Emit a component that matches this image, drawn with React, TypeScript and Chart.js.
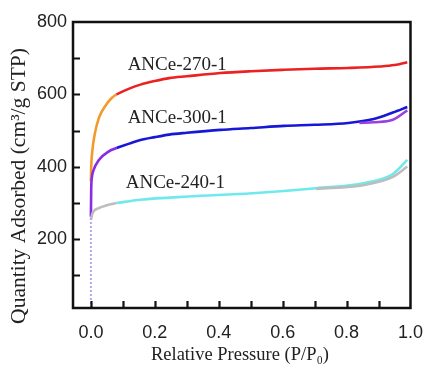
import React, { useEffect, useRef } from "react";
import { Chart, registerables } from "chart.js";
Chart.register(...registerables);

// ---- data ----
const xTicks = [0, 0.1, 0.2, 0.3, 0.4, 0.5, 0.6, 0.7, 0.8, 0.9, 1.0];
const yTicks = [100, 200, 300, 400, 500, 600, 700, 800];

const vertX = [0, 0];
const vertY = [10, 262];

const s270LowX = [0, 0.001, 0.004, 0.012, 0.025, 0.045, 0.065, 0.08];
const s270LowY = [360, 400, 440, 490, 535, 568, 590, 600];
const s270X = [0.08, 0.12, 0.155, 0.2, 0.245, 0.3, 0.405, 0.5, 0.605, 0.7, 0.805, 0.905, 0.95, 0.99];
const s270Y = [600, 616, 627, 637, 645, 650, 659, 664, 668, 671, 673, 677, 681, 689];

const s300LowX = [0, 0.001, 0.003, 0.008, 0.025, 0.055, 0.08];
const s300LowY = [262, 340, 370, 390, 419, 442, 452];
const s300X = [0.08, 0.12, 0.155, 0.2, 0.245, 0.3, 0.405, 0.5, 0.605, 0.7, 0.805, 0.885, 0.945, 0.99];
const s300Y = [452, 464, 474, 482, 489, 494, 502, 507, 513, 516, 521, 532, 550, 565];
const s300DesX = [0.84, 0.885, 0.945, 0.99];
const s300DesY = [521, 523, 530, 556];

const s240LowX = [0, 0.005, 0.025, 0.05, 0.08];
const s240LowY = [253, 272, 286, 294, 300];
const s240X = [0.08, 0.155, 0.305, 0.505, 0.705, 0.856, 0.945, 0.99];
const s240Y = [300, 309, 318, 327, 341, 355, 380, 419];
const s240DesX = [0.705, 0.856, 0.945, 0.99];
const s240DesY = [339, 350, 372, 401];

const labelNames = ["ANCe-270-1", "ANCe-300-1", "ANCe-240-1"];
const labelX = [0.115, 0.115, 0.109];
const labelY = [682, 536, 356];

const pts = (xs: number[], ys: number[]) => xs.map((x, i) => ({ x, y: ys[i] }));

export default function App() {
  const ref = useRef<HTMLCanvasElement | null>(null);
  useEffect(() => {
    if (!ref.current) return;
    const line = (data: any, color: string, extra: any = {}) => ({
      data,
      borderColor: color,
      backgroundColor: color,
      borderWidth: 2.6,
      pointRadius: 0,
      cubicInterpolationMode: "monotone",
      ...extra,
    });
    const deco = {
      id: "deco",
      afterDraw(chart: any) {
        const { ctx, chartArea: a, scales } = chart;
        const xs = scales.x, ys = scales.y;
        ctx.save();
        ctx.strokeStyle = "#111";
        ctx.lineWidth = 2.5;
        ctx.strokeRect(a.left, a.top, a.right - a.left, a.bottom - a.top);
        ctx.lineWidth = 2.2;
        ctx.beginPath();
        yTicks.slice(0, -1).forEach((v) => {
          const p = Math.round(ys.getPixelForValue(v)) + 0.5;
          ctx.moveTo(a.left, p);
          ctx.lineTo(a.left + 7, p);
        });
        xTicks.slice(0, -1).forEach((v) => {
          const p = Math.round(xs.getPixelForValue(v)) + 0.5;
          ctx.moveTo(p, a.bottom);
          ctx.lineTo(p, a.bottom - 7);
        });
        ctx.stroke();
        // series labels
        ctx.fillStyle = "#222";
        ctx.font = '19px "Liberation Serif"';
        ctx.textBaseline = "middle";
        ctx.textAlign = "left";
        labelNames.forEach((n, i) => {
          ctx.fillText(n, xs.getPixelForValue(labelX[i]), ys.getPixelForValue(labelY[i]));
        });
        // axis titles
        ctx.font = '18.5px "Liberation Serif"';
        ctx.textAlign = "center";
        ctx.fillText("Relative Pressure (P/P\u2080)", 240, 355);
        ctx.translate(19, 186);
        ctx.rotate(-Math.PI / 2);
        ctx.font = '21.5px "Liberation Serif"';
        ctx.fillText("Quantity Adsorbed (cm\u00b3/g STP)", 0, 0);
        ctx.restore();
      },
    };
    const chart = new Chart(ref.current, {
      type: "line",
      data: {
        datasets: [
          line(pts(vertX, vertY), "#b9a6e8", { borderDash: [2, 2], borderWidth: 2, cubicInterpolationMode: "default" }),
          line(pts(s240DesX, s240DesY), "#bdbdbd"),
          line(pts(s240X, s240Y), "#6fe9ec"),
          line(pts(s240LowX, s240LowY), "#bdbdbd"),
          line(pts(s300DesX, s300DesY), "#9b3fe0"),
          line(pts(s300X, s300Y), "#1717d6"),
          line(pts(s300LowX, s300LowY), "#8a2be6"),
          line(pts(s270X, s270Y), "#ea2222"),
          line(pts(s270LowX, s270LowY), "#f39a2c"),
        ],
      },
      options: {
        responsive: false,
        animation: false,
        parsing: false as any,
        layout: { padding: { left: 0, right: 14, top: 22, bottom: 0 } },
        plugins: { legend: { display: false }, tooltip: { enabled: false } },
        scales: {
          x: {
            type: "linear",
            min: -0.056,
            max: 1.0,
            afterBuildTicks: (s: any) => { s.ticks = xTicks.map((v) => ({ value: v })); },
            afterFit: (s: any) => { s.height = 62; },
            grid: { display: false, drawTicks: false },
            border: { display: false },
            ticks: {
              padding: 14,
              color: "#222",
              font: { family: "Liberation Sans", size: 18 },
              maxRotation: 0,
              autoSkip: false,
              callback: (v: any) => (Math.round(v * 10) % 2 === 0 ? Number(v).toFixed(1) : ""),
            },
          },
          y: {
            type: "linear",
            min: 10,
            max: 800,
            afterBuildTicks: (s: any) => { s.ticks = yTicks.map((v) => ({ value: v })); },
            afterFit: (s: any) => { s.width = 73; },
            grid: { display: false, drawTicks: false },
            border: { display: false },
            ticks: {
              padding: 6,
              color: "#222",
              font: { family: "Liberation Sans", size: 18 },
              autoSkip: false,
              callback: (v: any) => (v % 200 === 0 ? String(v) : ""),
            },
          },
        },
      },
      plugins: [deco],
    } as any);
    return () => chart.destroy();
  }, []);
  return (
    <div style={{ position: "absolute", left: 0, top: 0, width: 437, height: 370, background: "#fff" }}>
      <canvas ref={ref} width={437} height={370} />
    </div>
  );
}
